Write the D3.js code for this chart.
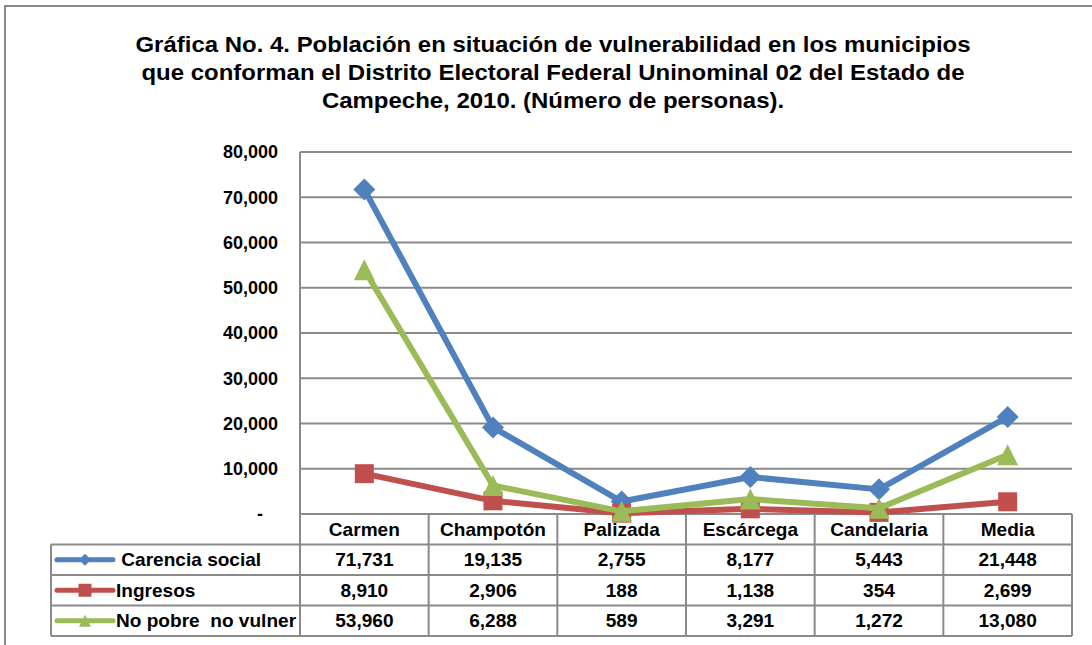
<!DOCTYPE html>
<html>
<head>
<meta charset="utf-8">
<script src="https://cdn.jsdelivr.net/npm/d3@7"></script>
<style>
  body { margin: 0; background: #fff; }
  svg { display: block; font-family: 'Liberation Sans', Arial, sans-serif; font-weight: bold; }
  text { white-space: pre; }
</style>
</head>
<body>
<svg id="chart"></svg>
<script>
// data
const titleLines = [
  'Gráfica No. 4. Población en situación de vulnerabilidad en los municipios',
  'que conforman el Distrito Electoral Federal Uninominal 02 del Estado de',
  'Campeche, 2010. (Número de personas).'
];
const municipios = ['Carmen', 'Champotón', 'Palizada', 'Escárcega', 'Candelaria', 'Media'];
const seriesNames = [' Carencia social', 'Ingresos', 'No pobre  no vulner'];
const carenciaSocial = [71731, 19135, 2755, 8177, 5443, 21448];
const ingresos = [8910, 2906, 188, 1138, 354, 2699];
const noPobre = [53960, 6288, 589, 3291, 1272, 13080];
const yTicks = [0, 10000, 20000, 30000, 40000, 50000, 60000, 70000, 80000];

const colors = ['#4F81BD', '#C0504D', '#9BBB59'];
const markerTypes = ['diamond', 'square', 'triangle'];
const series = [carenciaSocial, ingresos, noPobre].map((values, i) => ({
  name: seriesNames[i],
  values: values,
  color: colors[i],
  marker: markerTypes[i]
}));

const width = 1092;
const height = 645;
const plot = { left: 300, right: 1072, top: 152, bottom: 514 };
const table = { left: 51, bottom: 636 };
const gridColor = '#8a8a8a';
const stretch = 1.06; // the source text is a little wide

const svg = d3.select('#chart')
  .attr('width', width)
  .attr('height', height);

// outer frame (runs off the right and bottom edge)
svg.append('rect')
  .attr('x', 5).attr('y', 6)
  .attr('width', 1200).attr('height', 800)
  .attr('fill', 'none')
  .attr('stroke', gridColor)
  .attr('stroke-width', 2);

// title
svg.append('g')
  .selectAll('text')
  .data(titleLines)
  .join('text')
  .attr('transform', (d, i) => `translate(553,${52 + i * 28}) scale(1.09,1)`)
  .attr('text-anchor', 'middle')
  .attr('font-size', 22)
  .attr('fill', '#000')
  .text(d => d);

const x = d3.scaleBand()
  .domain(municipios)
  .range([plot.left, plot.right]);

const y = d3.scaleLinear()
  .domain([0, 80000])
  .range([plot.bottom, plot.top]);

const rows = d3.scaleBand()
  .domain(['header', ...seriesNames])
  .range([plot.bottom, table.bottom]);

// gridlines
svg.append('g')
  .selectAll('line')
  .data(yTicks.filter(d => d > 0))
  .join('line')
  .attr('x1', plot.left).attr('x2', plot.right)
  .attr('y1', d => y(d)).attr('y2', d => y(d))
  .attr('stroke', gridColor)
  .attr('stroke-width', 2);

// y axis
const fmt = d3.format(',');
const yAxis = svg.append('g')
  .attr('transform', `translate(${plot.left},0)`)
  .call(d3.axisLeft(y)
    .tickValues(yTicks)
    .tickSize(0)
    .tickPadding(22)
    .tickFormat(d => d === 0 ? '-   ' : fmt(d)));
yAxis.select('.domain').remove();
yAxis.selectAll('text')
  .attr('font-family', 'Liberation Sans, Arial, sans-serif')
  .attr('font-size', 18)
  .attr('font-weight', 'bold')
  .attr('fill', '#000');

svg.append('line')
  .attr('x1', plot.left).attr('x2', plot.left)
  .attr('y1', plot.top).attr('y2', table.bottom)
  .attr('stroke', gridColor)
  .attr('stroke-width', 2);

// data table grid
const tableG = svg.append('g');
const colEdges = municipios.map(d => x(d) + x.bandwidth());
tableG.selectAll('line.col')
  .data(colEdges)
  .join('line')
  .attr('class', 'col')
  .attr('x1', d => d).attr('x2', d => d)
  .attr('y1', plot.bottom).attr('y2', table.bottom)
  .attr('stroke', gridColor)
  .attr('stroke-width', 2);

tableG.selectAll('line.row')
  .data(['header', ...seriesNames])
  .join('line')
  .attr('class', 'row')
  .attr('x1', d => d === 'header' ? plot.left : table.left)
  .attr('x2', plot.right)
  .attr('y1', d => rows(d))
  .attr('y2', d => rows(d))
  .attr('stroke', gridColor)
  .attr('stroke-width', 2);

tableG.append('line')
  .attr('x1', table.left).attr('x2', plot.right)
  .attr('y1', table.bottom).attr('y2', table.bottom)
  .attr('stroke', gridColor)
  .attr('stroke-width', 2);

tableG.append('line')
  .attr('x1', table.left).attr('x2', table.left)
  .attr('y1', rows(seriesNames[0])).attr('y2', table.bottom)
  .attr('stroke', gridColor)
  .attr('stroke-width', 2);

// centred, slightly stretched cell text
function cellText(sel, cx, cy) {
  return sel
    .attr('transform', (d, i) => `translate(${cx(d, i)},${cy}) scale(${stretch},1)`)
    .attr('dy', '0.36em')
    .attr('text-anchor', 'middle')
    .attr('font-size', 18);
}

// header labels
tableG.selectAll('text.head')
  .data(municipios)
  .join('text')
  .attr('class', 'head')
  .call(cellText, d => x(d) + x.bandwidth() / 2, rows('header') + rows.bandwidth() / 2)
  .text(d => d);

// marker shapes
function markerPath(type, h) {
  if (type === 'diamond') {
    return `M0,${-h}L${h},0L0,${h}L${-h},0Z`;
  }
  if (type === 'square') {
    return `M${-h},${-h}h${2 * h}v${2 * h}h${-2 * h}Z`;
  }
  return `M0,${-h}L${h},${h}L${-h},${h}Z`;
}
const markerSize = { diamond: 11, square: 9.5, triangle: 10.5 };
const legendMarkerSize = { diamond: 6, square: 6.5, triangle: 6 };

// value rows + legend keys
series.forEach(s => {
  const cy = rows(s.name) + rows.bandwidth() / 2;
  const row = tableG.append('g');

  row.append('line')
    .attr('x1', 57).attr('x2', 113)
    .attr('y1', cy).attr('y2', cy)
    .attr('stroke', s.color)
    .attr('stroke-width', 5)
    .attr('stroke-linecap', 'round');
  row.append('path')
    .attr('transform', `translate(85,${cy})`)
    .attr('d', markerPath(s.marker, legendMarkerSize[s.marker]))
    .attr('fill', s.color);

  row.append('text')
    .attr('transform', `translate(116,${cy}) scale(${stretch},1)`)
    .attr('dy', '0.36em')
    .attr('font-size', 18)
    .text(s.name);

  row.selectAll('text.val')
    .data(s.values)
    .join('text')
    .attr('class', 'val')
    .call(cellText, (d, i) => x(municipios[i]) + x.bandwidth() / 2, cy)
    .text(d => fmt(d));
});

// lines and markers
const line = d3.line()
  .x((d, i) => x(municipios[i]) + x.bandwidth() / 2)
  .y(d => y(d));

series.forEach(s => {
  const g = svg.append('g');
  g.append('path')
    .datum(s.values)
    .attr('d', line)
    .attr('fill', 'none')
    .attr('stroke', s.color)
    .attr('stroke-width', 6)
    .attr('stroke-linejoin', 'round');
  g.selectAll('path.mark')
    .data(s.values)
    .join('path')
    .attr('class', 'mark')
    .attr('transform', (d, i) => `translate(${x(municipios[i]) + x.bandwidth() / 2},${y(d)})`)
    .attr('d', markerPath(s.marker, markerSize[s.marker]))
    .attr('fill', s.color);
});
</script>
</body>
</html>
